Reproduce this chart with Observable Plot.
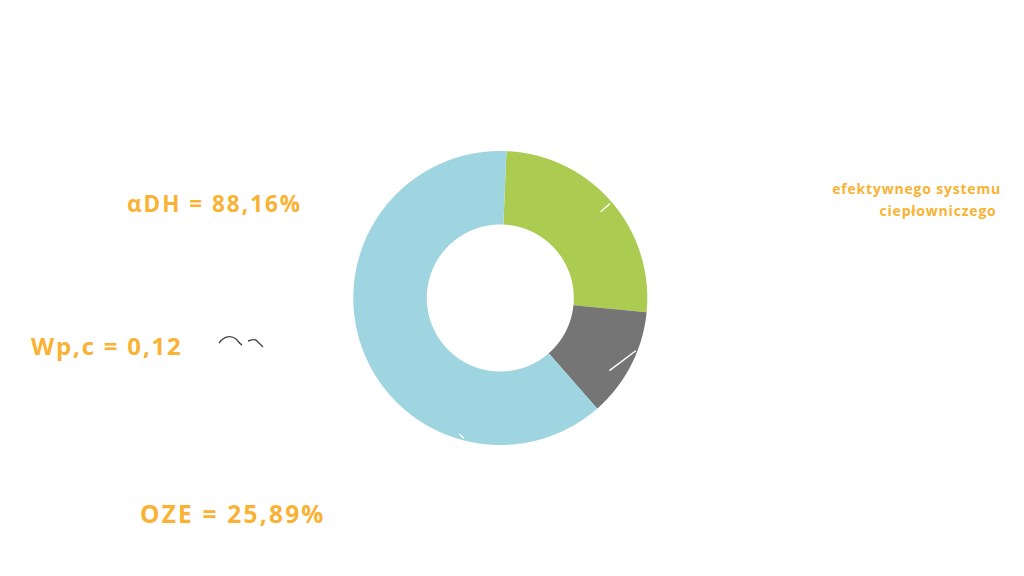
<!DOCTYPE html>
<html><head><meta charset="utf-8">
<script src="https://cdn.jsdelivr.net/npm/d3@7"></script>
<script src="https://cdn.jsdelivr.net/npm/@observablehq/plot@0.6"></script>
<style>
html,body{margin:0;padding:0;background:#fff;}
#wrap{position:relative;width:1024px;height:576px;overflow:hidden;font-family:"Open Sans",Lato,sans-serif;}
#chart{position:absolute;left:0;top:0;}
.lbl{position:absolute;color:#F9B233;font-weight:700;white-space:nowrap;line-height:1.2;}
#note{position:absolute;right:23px;top:178px;color:#F9B233;font-weight:700;font-size:14px;letter-spacing:0.8px;line-height:22px;text-align:right;white-space:pre;}
#deco{position:absolute;left:0;top:0;pointer-events:none;}
</style></head><body>
<div id="wrap">
  <div id="chart"></div>
  <div class="lbl" id="l0" style="left:127px;top:190px;font-size:22.5px;letter-spacing:2px"></div>
  <div class="lbl" id="l1" style="left:31px;top:331.5px;font-size:24px;letter-spacing:1.8px"></div>
  <div class="lbl" id="l2" style="left:140px;top:499px;font-size:24.5px;letter-spacing:2.2px"></div>
  <div id="note"></div>
  <svg id="deco" width="1024" height="576">
    <path d="M219,343 C224,336 231,335 236,339 C238,341 240,344 242,345" fill="none" stroke="#444" stroke-width="1.4"/>
    <path d="M248,341 C251,340 254,339 256,340 C258,342 261,345 263,347" fill="none" stroke="#444" stroke-width="1.4"/>
  </svg>
</div>
<script>
// data
const categories = ["OZE", "Wp,c", "pozostałe"];
const values = [25.89, 12.0, 62.11];
const colors = ["#ABCB51", "#757575", "#9ED5E1"];
const labels = ["αDH = 88,16%", "Wp,c = 0,12", "OZE = 25,89%"];
const noteLines = ["efektywnego systemu", "ciepłowniczego\u00a0"];

// layout
const W = 1024, H = 576, CX = 500.3, CY = 298, R = 147, INNER = 0.5;
const START = 2.4 * Math.PI / 180;

const slices = d3.pie().sort(null).startAngle(START).endAngle(START + 2 * Math.PI)(values);

const pts = [];
slices.forEach((s, i) => {
  const n = Math.max(8, Math.ceil((s.endAngle - s.startAngle) / 0.005));
  for (let k = 0; k <= n; k++) {
    const a = s.startAngle + (s.endAngle - s.startAngle) * k / n;
    pts.push({
      cat: categories[i],
      xi: INNER * Math.sin(a), yi: INNER * Math.cos(a),
      xo: Math.sin(a), yo: Math.cos(a)
    });
  }
});

// small white leader ticks where the label lines leave each slice (styling)
const leaderStyle = [
  {frac: 0.5, len: 0.085, dir: 221},
  {frac: 0.36, len: 0.225, dir: 217},
  {frac: 0.25, len: 0.045, dir: 135}
];
const leaders = slices.map((s, i) => {
  const st = leaderStyle[i];
  const m = s.startAngle + (s.endAngle - s.startAngle) * st.frac;
  const x2 = 0.985 * Math.sin(m), y2 = 0.985 * Math.cos(m);
  const t = st.dir * Math.PI / 180;
  return {x1: x2 + st.len * Math.cos(t), y1: y2 + st.len * Math.sin(t), x2, y2};
});

const plot = Plot.plot({
  width: W, height: H,
  margin: 0,
  x: {type: "linear", domain: [-CX / R, (W - CX) / R], range: [0, W], axis: null},
  y: {type: "linear", domain: [CY / R, -(H - CY) / R], range: [0, H], axis: null},
  color: {domain: categories, range: colors},
  marks: [
    Plot.area(pts, {x1: "xi", y1: "yi", x2: "xo", y2: "yo", z: "cat", fill: "cat", curve: "linear"}),
    Plot.link(leaders, {x1: "x1", y1: "y1", x2: "x2", y2: "y2", stroke: "white", strokeWidth: 1.4})
  ]
});
document.getElementById("chart").appendChild(plot);
labels.forEach((t, i) => document.getElementById("l" + i).textContent = t);
document.getElementById("note").textContent = noteLines.join("\n");
</script>
</body></html>
